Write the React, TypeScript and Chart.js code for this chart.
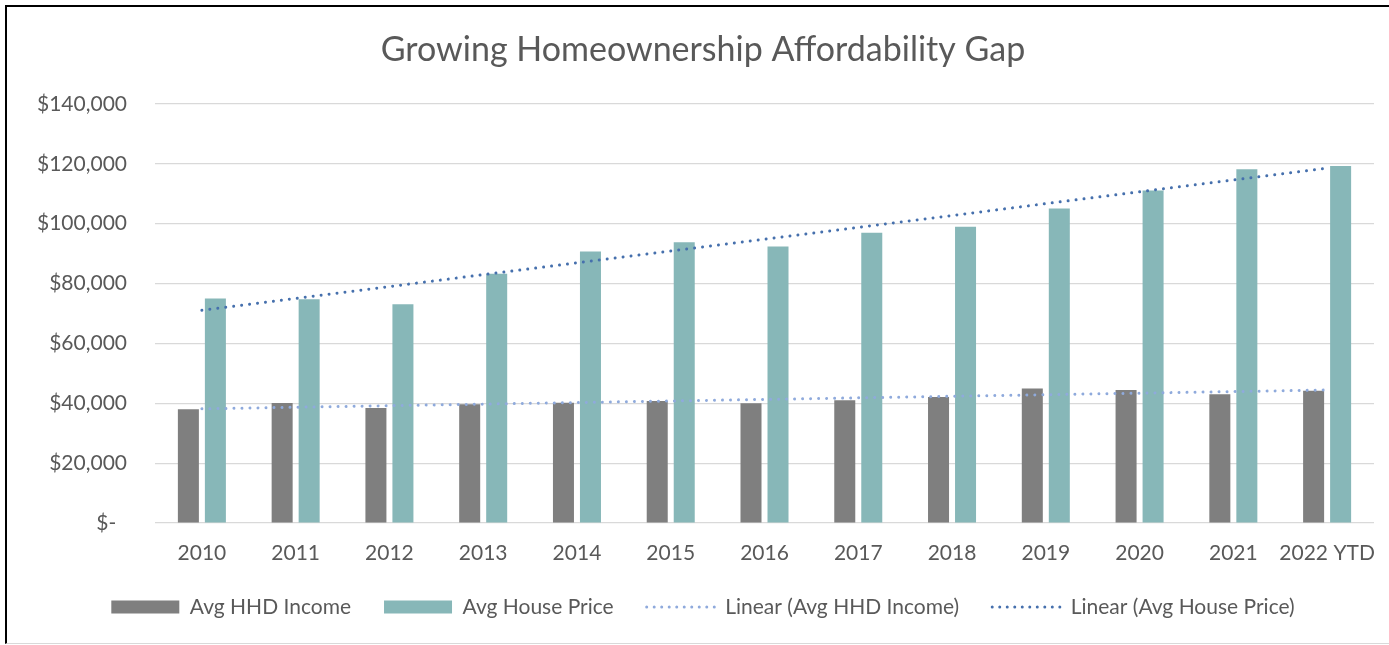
import React, { useEffect, useRef } from "react";
import { Chart, registerables } from "chart.js";

Chart.register(...registerables);

const categories = ["2010", "2011", "2012", "2013", "2014", "2015", "2016", "2017", "2018", "2019", "2020", "2021", "2022 YTD"];
const avgHhdIncome = [38000, 40100, 38400, 39700, 40200, 40800, 40000, 41000, 42100, 44900, 44400, 43000, 44200];
const avgHousePrice = [75000, 74800, 73100, 83300, 90700, 93800, 92400, 97000, 99000, 105100, 111100, 118200, 119300];
const yTickValues = [0, 20000, 40000, 60000, 80000, 100000, 120000, 140000];
const seriesLabels = ["Avg HHD Income", "Avg House Price", "Linear (Avg HHD Income)", "Linear (Avg House Price)"];
const titleText = "Growing Homeownership Affordability Gap";

// Excel-style linear (least-squares) trendline of a series
function linearTrend(values: number[]): number[] {
  const n = values.length;
  const xs = values.map((_, i) => i + 1);
  const mx = xs.reduce((a, b) => a + b, 0) / n;
  const my = values.reduce((a, b) => a + b, 0) / n;
  let sxy = 0;
  let sxx = 0;
  for (let i = 0; i < n; i++) {
    sxy += (xs[i] - mx) * (values[i] - my);
    sxx += (xs[i] - mx) * (xs[i] - mx);
  }
  const slope = sxy / sxx;
  return xs.map((x) => my + slope * (x - mx));
}

const FONT = "Lato, 'Open Sans', sans-serif";
const TEXT = "#595959";
const GRAY = "#7F7F7F";
const TEAL = "#87B7B8";
const TREND_INCOME = "#8FAADC";
const TREND_HOUSE = "#4670AD";

export default function App() {
  const ref = useRef<HTMLCanvasElement>(null);

  useEffect(() => {
    document.body.style.margin = "0";
    document.body.style.overflow = "hidden";
    const canvas = ref.current!;
    const chart = new Chart(canvas, {
      type: "bar",
      data: {
        labels: categories,
        datasets: [
          {
            type: "bar",
            label: seriesLabels[0],
            data: avgHhdIncome,
            backgroundColor: GRAY,
            categoryPercentage: 0.576,
            barPercentage: 0.778,
            order: 2,
          },
          {
            type: "bar",
            label: seriesLabels[1],
            data: avgHousePrice,
            backgroundColor: TEAL,
            categoryPercentage: 0.576,
            barPercentage: 0.778,
            order: 2,
          },
          {
            type: "line",
            label: seriesLabels[2],
            data: linearTrend(avgHhdIncome),
            borderColor: TREND_INCOME,
            backgroundColor: TREND_INCOME,
            borderWidth: 3,
            borderDash: [0.01, 8],
            borderCapStyle: "round",
            pointRadius: 0,
            fill: false,
            order: 1,
          },
          {
            type: "line",
            label: seriesLabels[3],
            data: linearTrend(avgHousePrice),
            borderColor: TREND_HOUSE,
            backgroundColor: TREND_HOUSE,
            borderWidth: 3,
            borderDash: [0.01, 8],
            borderCapStyle: "round",
            pointRadius: 0,
            fill: false,
            order: 0,
          },
        ] as any,
      },
      options: {
        responsive: false,
        animation: false,
        layout: { padding: { left: 32, right: 32, top: 0, bottom: 17.5 } },
        plugins: {
          title: {
            display: true,
            text: titleText,
            color: TEXT,
            font: { family: FONT, size: 34, weight: "normal" },
            padding: { top: 29.6, bottom: 33.6 },
          },
          legend: {
            position: "bottom",
            labels: {
              usePointStyle: true,
              pointStyleWidth: 68,
              boxHeight: 13,
              padding: 33,
              color: TEXT,
              font: { family: FONT, size: 21 },
              generateLabels: (c: any) =>
                c.data.datasets.map((ds: any, i: number) => {
                  const isLine = ds.type === "line";
                  return {
                    text: ds.label,
                    datasetIndex: i,
                    fontColor: TEXT,
                    fillStyle: isLine ? "rgba(0,0,0,0)" : ds.backgroundColor,
                    strokeStyle: isLine ? ds.borderColor : "rgba(0,0,0,0)",
                    lineWidth: isLine ? 3 : 0,
                    lineDash: isLine ? [0.01, 7.5] : [],
                    lineCap: "round",
                    pointStyle: isLine ? "line" : "rect",
                    hidden: false,
                  };
                }),
            },
          },
          tooltip: { enabled: false },
        },
        scales: {
          x: {
            grid: { display: false },
            border: { display: false },
            ticks: {
              color: TEXT,
              font: { family: FONT, size: 21 },
              padding: 10,
              maxRotation: 0,
              autoSkip: false,
            },
            afterFit: (s: any) => {
              s.height = 40.5;
            },
          },
          y: {
            min: 0,
            max: 140000,
            afterBuildTicks: (s: any) => {
              s.ticks = yTickValues.map((v) => ({ value: v }));
            },
            ticks: {
              color: TEXT,
              font: { family: FONT, size: 21 },
              padding: 28,
              callback: (v: any) => (Number(v) === 0 ? "$-  " : "$" + Number(v).toLocaleString("en-US")),
            },
            grid: { color: "#D9D9D9", lineWidth: 1.2, drawTicks: false },
            border: { display: false },
            afterFit: (s: any) => {
              s.width = 123;
            },
          },
        },
      },
    });
    return () => chart.destroy();
  }, []);

  return (
    <div style={{ position: "relative", width: 1389, height: 645, overflow: "hidden", background: "#fff" }}>
      <div
        style={{
          position: "absolute",
          left: 5,
          top: 5,
          width: 1420,
          height: 639,
          borderLeft: "2px solid #000",
          borderTop: "2px solid #000",
          borderBottom: "1px solid #D9D9D9",
          boxSizing: "border-box",
        }}
      />
      <canvas ref={ref} width={1406} height={645} style={{ position: "absolute", left: 0, top: 0, width: 1406, height: 645 }} />
    </div>
  );
}
